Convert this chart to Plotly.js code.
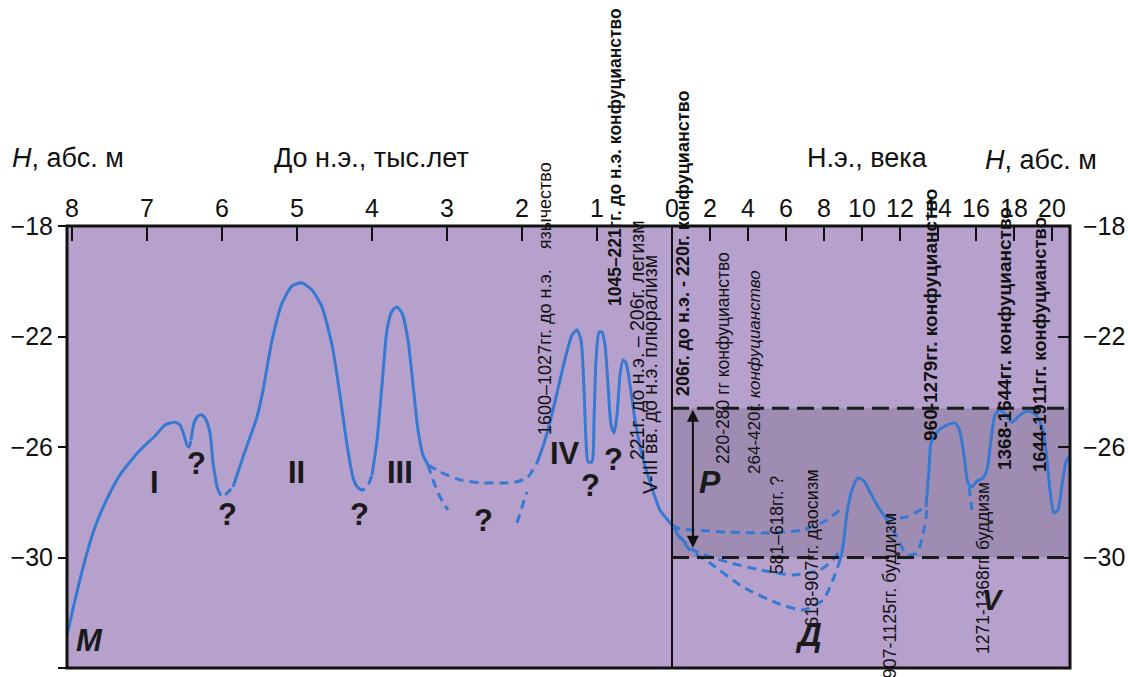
<!DOCTYPE html>
<html>
<head>
<meta charset="utf-8">
<script src="https://cdn.plot.ly/plotly-3.0.1.min.js"></script>
<style>html,body{margin:0;padding:0;background:#fff;}#chart{width:1128px;height:677px;}</style>
</head>
<body>
<div id="chart"></div>
<script>
// ---- tick values ----
const bcTicks = [8, 7, 6, 5, 4, 3, 2, 1, 0];          // thousands of years BC
const adTicks = [2, 4, 6, 8, 10, 12, 14, 16, 18, 20]; // centuries AD
const hTicks = [-18, -22, -26, -30, -34];             // H, abs. m

// ---- BC curve segments (x: thousand years BC, y: H m) ----
const bcS1x = [8.067, 7.96, 7.827, 7.693, 7.56, 7.36, 7.093, 6.893, 6.76, 6.627, 6.56, 6.507, 6.467];
const bcS1y = [-32.81, -31.54, -30.09, -28.9, -28.03, -27.01, -26.11, -25.6, -25.2, -25.1, -25.2, -25.57, -25.96];
const bcD1x = [6.467, 6.44, 6.413];
const bcD1y = [-25.96, -26.0, -25.75];
const bcS2x = [6.413, 6.373, 6.32, 6.267, 6.213, 6.16, 6.12, 6.067];
const bcS2y = [-25.75, -25.13, -24.88, -24.84, -25.02, -25.49, -26.58, -27.45];
const bcD2x = [6.067, 6.0, 5.933, 5.853];
const bcD2y = [-27.45, -27.81, -27.67, -27.45];
const bcS3x = [5.853, 5.72, 5.533, 5.453, 5.333, 5.2, 5.067, 4.933, 4.8, 4.667, 4.533, 4.427, 4.333, 4.253, 4.2];
const bcS3y = [-27.45, -26.36, -24.91, -23.94, -22.13, -20.79, -20.17, -20.06, -20.32, -20.93, -22.31, -24.12, -25.93, -27.12, -27.45];
const bcD3x = [4.2, 4.133, 4.053, 4.0];
const bcD3y = [-27.45, -27.56, -27.38, -27.01];
const bcS4x = [4.0, 3.933, 3.867, 3.8, 3.733, 3.667, 3.6, 3.52, 3.453, 3.387, 3.32, 3.253];
const bcS4y = [-27.01, -25.75, -23.76, -21.76, -21.08, -20.93, -21.15, -22.13, -23.76, -25.38, -26.29, -26.65];
const bcD4x = [3.253, 3.093, 2.827, 2.56, 2.293, 2.093, 1.933, 1.8];
const bcD4y = [-26.65, -26.9, -27.19, -27.3, -27.3, -27.27, -27.12, -26.58];
const bcD5x = [3.253, 3.187, 3.093, 2.987];
const bcD5y = [-26.65, -27.19, -27.81, -28.28];
const bcD6x = [2.067, 2.0, 1.933];
const bcD6y = [-28.75, -28.17, -27.63];
const bcS5x = [1.8, 1.693, 1.587, 1.493, 1.413, 1.333, 1.267, 1.213, 1.173, 1.147, 1.12, 1.067, 1.04, 1.013, 0.973, 0.933, 0.893, 0.853, 0.813, 0.773, 0.733, 0.693, 0.653, 0.613, 0.56, 0.493, 0.4, 0.293, 0.16, 0.0];
const bcS5y = [-26.58, -25.75, -24.66, -23.57, -22.67, -21.95, -21.76, -22.13, -23.94, -25.75, -26.54, -26.54, -25.02, -22.85, -21.84, -21.84, -22.31, -23.76, -25.2, -25.49, -24.84, -23.39, -22.85, -22.96, -23.76, -25.02, -26.29, -27.27, -28.28, -28.82];

// ---- AD curve segments (x: centuries AD, y: H m) ----
const adD7x = [0, 0.42, 1.105, 2.895, 5.158, 6.895, 8.158, 9.0];
const adD7y = [-28.82, -28.97, -29.0, -29.08, -29.11, -29.0, -28.64, -28.17];
const adD8x = [0, 0.42, 1.105, 2.895, 4.632, 6.368, 7.789, 8.474, 8.947];
const adD8y = [-28.82, -29.26, -29.73, -30.16, -30.45, -30.63, -30.45, -30.09, -29.62];
const adD9x = [0.21, 0.947, 2.0, 3.737, 5.526, 6.895, 7.947, 8.474, 8.842];
const adD9y = [-29.08, -29.73, -30.2, -31.07, -31.65, -31.9, -31.54, -30.81, -30.09];
const adS7x = [8.842, 9.0, 9.21, 9.474, 9.789, 10.105, 10.42, 10.789, 11.21];
const adS7y = [-30.09, -29.62, -28.39, -27.56, -27.12, -27.23, -27.63, -28.1, -28.53];
const adD10x = [11.21, 11.842, 12.368, 12.895, 13.368];
const adD10y = [-28.53, -28.57, -28.53, -28.35, -28.17];
const adD11x = [11.21, 11.842, 12.368, 12.895, 13.263, 13.42];
const adD11y = [-28.53, -29.26, -29.91, -29.84, -29.0, -28.28];
const adS8x = [13.368, 13.526, 13.632, 13.947, 14.368, 14.895, 15.158, 15.368, 15.579, 15.789, 16.053, 16.368, 16.579, 16.789, 17.0, 17.263, 17.579, 17.895, 18.316, 18.737, 19.158, 19.526, 19.737, 19.895, 20.105, 20.316, 20.526, 20.737, 20.947];
const adS8y = [-28.17, -26.83, -25.86, -25.46, -25.24, -25.13, -25.46, -26.29, -27.3, -27.45, -27.23, -27.12, -26.83, -25.75, -24.84, -24.66, -24.84, -25.1, -24.84, -24.7, -24.84, -25.38, -26.47, -27.56, -28.39, -28.28, -27.38, -26.54, -26.29];
const adD12x = [15.632, 15.789];
const adD12y = [-27.45, -28.28];

// ---- band P (H m) ----
const bandTop = -24.6;
const bandBottom = -30.0;

// ---- texts ----
const periodLabels = ['I', '?', '?', 'II', '?', 'III', '?', 'IV', '?', '?'];
const eraTexts = [
  '1600–1027гг. до н.э.\u00a0\u00a0\u00a0 язычество',
  '<b>1045–221гг. до н.э. конфуцианство</b>',
  '221г. до н.э. – 206г. легизм',
  'V-III вв. до н.э. плюрализм',
  '<b>206г. до н.э. - 220г. конфуцианство</b>',
  '220-280 гг конфуцианство',
  '264-420г. <i>конфуцианство</i>',
  '581–618гг. ?',
  '618-907гг. даосизм',
  '907-1125гг. буддизм',
  '<b>960-1279гг. конфуцианство</b>',
  '1271-1368гг. буддизм',
  '<b>1368-1644гг. конфуцианство</b>',
  '<b>1644-1911гг. конфуцианство</b>'
];
const eraSizes = [18, 17.5, 19.5, 19.5, 18, 17.5, 17, 17.5, 18, 18, 19, 17.5, 19, 18.5];

const BLUE = '#3679d2';
const SANS = '"Liberation Sans", Arial, sans-serif';

function seg(x, y, xa, dashed) {
  return {
    type: 'scatter', mode: 'lines', x: x, y: y, xaxis: xa, yaxis: 'y',
    line: {color: BLUE, width: 3, dash: dashed ? '9px,6px' : 'solid', shape: 'spline', smoothing: 0.6},
    hoverinfo: 'skip', showlegend: false
  };
}

const traces = [
  seg(bcS1x, bcS1y, 'x', false), seg(bcD1x, bcD1y, 'x', true),
  seg(bcS2x, bcS2y, 'x', false), seg(bcD2x, bcD2y, 'x', true),
  seg(bcS3x, bcS3y, 'x', false), seg(bcD3x, bcD3y, 'x', true),
  seg(bcS4x, bcS4y, 'x', false), seg(bcD4x, bcD4y, 'x', true),
  seg(bcD5x, bcD5y, 'x', true), seg(bcD6x, bcD6y, 'x', true),
  seg(bcS5x, bcS5y, 'x', false),
  seg(adD7x, adD7y, 'x2', true), seg(adD8x, adD8y, 'x2', true),
  seg(adD9x, adD9y, 'x2', true), seg(adS7x, adS7y, 'x2', false),
  seg(adD10x, adD10y, 'x2', true), seg(adD11x, adD11y, 'x2', true),
  seg(adS8x, adS8y, 'x2', false), seg(adD12x, adD12y, 'x2', true),
  {type: 'scatter', mode: 'lines', x: [null], y: [null], xaxis: 'x2', yaxis: 'y2', hoverinfo: 'skip', showlegend: false}
];

const D = 605 / 1003; // split between BC and AD scales (paper)

// rotated text positions (paper coords)
const rotPos = [
  [0.4766, 0.8350], [0.5464, 1.1561], [0.5683, 0.7421], [0.5813, 0.6629],
  [0.6142, 0.9615], [0.6540, 0.7014], [0.6859, 0.6697], [0.7079, 0.3235],
  [0.7428, 0.2700], [0.8205, 0.1640], [0.8604, 0.7986], [0.9133, 0.2262],
  [0.9342, 0.7443], [0.9701, 0.7308]
];
const labPos = [
  [0.0877, 0.4186], [0.1296, 0.4638], [0.1605, 0.3462], [0.2293, 0.4434],
  [0.2921, 0.3462], [0.3320, 0.4412], [0.4157, 0.3348], [0.4965, 0.4864],
  [0.5224, 0.4140], [0.5444, 0.4706]
];

const annotations = [];
eraTexts.forEach((t, i) => {
  annotations.push({xref: 'paper', yref: 'paper', x: rotPos[i][0], y: rotPos[i][1],
    text: t, textangle: -90, showarrow: false, xanchor: 'center', yanchor: 'middle',
    font: {family: SANS, size: eraSizes[i], color: '#111'}});
});
periodLabels.forEach((t, i) => {
  annotations.push({xref: 'paper', yref: 'paper', x: labPos[i][0], y: labPos[i][1],
    xanchor: 'center', yanchor: 'middle',
    text: t, showarrow: false, font: {family: SANS, size: 31, color: '#1a1a1a', weight: 'bold'}});
});
const C = {xref: 'paper', yref: 'paper', xanchor: 'center', yanchor: 'middle', showarrow: false};
annotations.push(
  Object.assign({}, C, {x: 0.0229, y: 0.0633, text: '<i>M</i>', font: {family: SANS, size: 31, color: '#1a1a1a', weight: 'bold'}}),
  Object.assign({}, C, {x: 0.7388, y: 0.0747, text: '<i>Д</i>', font: {family: SANS, size: 33, color: '#1a1a1a', weight: 'bold'}}),
  Object.assign({}, C, {x: 0.6411, y: 0.4208, text: '<i>P</i>', font: {family: SANS, size: 32, color: '#1a1a1a', weight: 'bold'}}),
  Object.assign({}, C, {x: 0.9232, y: 0.1538, text: '<i>V</i>', font: {family: SANS, size: 29, color: '#1a1a1a', weight: 'bold'}}),
  // axis titles
  Object.assign({}, C, {x: -0.057, y: 1.154, xanchor: 'left', text: '<i>H</i>, абс. м', font: {family: SANS, size: 27, color: '#111'}}),
  Object.assign({}, C, {x: 0.304, y: 1.154, text: 'До н.э., тыс.лет', font: {family: SANS, size: 27, color: '#111'}}),
  Object.assign({}, C, {x: 0.7986, y: 1.154, text: 'Н.э., века', font: {family: SANS, size: 27, color: '#111'}}),
  Object.assign({}, C, {x: 0.913, y: 1.149, xanchor: 'left', text: '<i>H</i>, абс. м', font: {family: SANS, size: 27, color: '#111'}}),
  // double arrow of band P
  {xref: 'x2', yref: 'y', x: 1.1, y: bandTop - 0.05, axref: 'x2', ayref: 'y', ax: 1.1, ay: bandBottom + 0.3,
    text: '', showarrow: true, arrowhead: 2, arrowside: 'end+start', arrowsize: 1.2, arrowwidth: 2, arrowcolor: '#111'}
);

const shapes = [
  {type: 'rect', xref: 'x2', yref: 'y', x0: 0, x1: 20.95, y0: bandBottom, y1: bandTop,
    fillcolor: '#9f8cb3', line: {width: 0}, layer: 'below'},
  {type: 'line', xref: 'x2', yref: 'y', x0: 0, x1: 20.95, y0: bandTop, y1: bandTop,
    line: {color: '#1a1a1a', width: 3, dash: '17px,8px'}},
  {type: 'line', xref: 'x2', yref: 'y', x0: 0, x1: 20.95, y0: bandBottom, y1: bandBottom,
    line: {color: '#1a1a1a', width: 3, dash: '17px,8px'}},
  {type: 'line', xref: 'paper', yref: 'paper', x0: D, x1: D, y0: 0, y1: 1,
    line: {color: '#111', width: 2}},
  {type: 'rect', xref: 'paper', yref: 'paper', x0: 0, x1: 1, y0: 0, y1: 1,
    line: {color: '#111', width: 3}}
];

const axFont = {family: SANS, size: 25, color: '#111'};
const layout = {
  width: 1128, height: 677,
  margin: {l: 67, r: 58, t: 226, b: 9, pad: 0},
  paper_bgcolor: '#ffffff', plot_bgcolor: '#b6a0cc',
  showlegend: false,
  xaxis: {domain: [0, D], range: [8.067, 0], side: 'top', anchor: 'y',
    tickmode: 'array', tickvals: bcTicks, ticktext: bcTicks.map(String),
    ticks: 'inside', ticklen: 15, tickwidth: 2, tickcolor: '#111', tickfont: axFont,
    ticklabelstandoff: 3, showgrid: false, zeroline: false, showline: false, fixedrange: true},
  xaxis2: {domain: [D, 1], range: [0, 20.95], side: 'top', anchor: 'y',
    tickmode: 'array', tickvals: adTicks, ticktext: adTicks.map(String),
    ticks: 'inside', ticklen: 15, tickwidth: 2, tickcolor: '#111', tickfont: axFont,
    ticklabelstandoff: 3, showgrid: false, zeroline: false, showline: false, fixedrange: true},
  yaxis: {range: [-34, -18], anchor: 'x', tickmode: 'array', tickvals: hTicks,
    ticks: 'outside', ticklen: 8, tickwidth: 2, tickcolor: '#111', tickfont: axFont,
    showgrid: false, zeroline: false, showline: false, fixedrange: true},
  yaxis2: {range: [-34, -18], anchor: 'x2', overlaying: 'y', side: 'right',
    tickmode: 'array', tickvals: hTicks,
    ticks: 'inside', ticklen: 12, tickwidth: 2, tickcolor: '#111', tickfont: axFont,
    ticklabelstandoff: 12, showgrid: false, zeroline: false, showline: false, fixedrange: true},
  annotations: annotations,
  shapes: shapes
};

Plotly.newPlot('chart', traces, layout, {displayModeBar: false, staticPlot: true});
</script>
</body>
</html>
